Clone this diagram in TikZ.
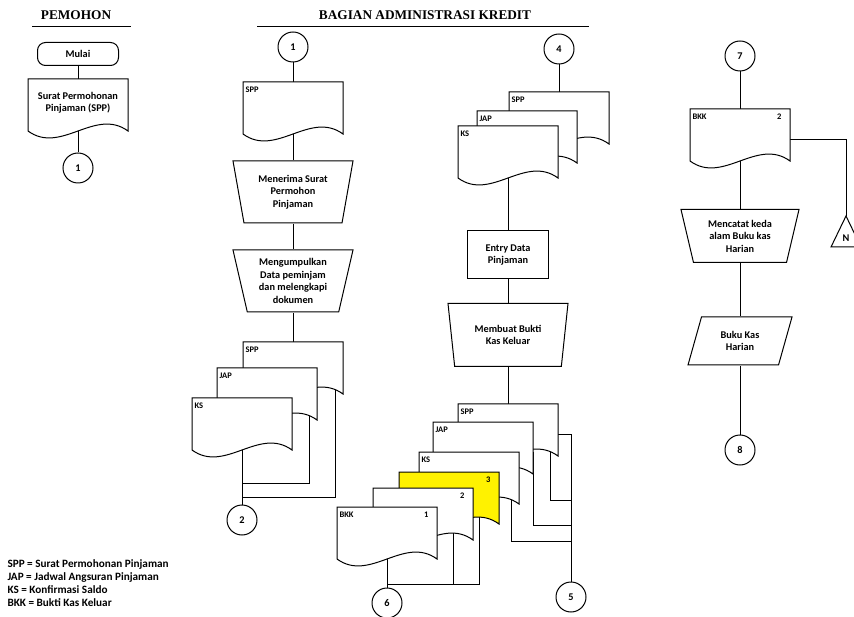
\documentclass[tikz,border=0pt]{standalone}
\usepackage{fontspec}
\setmainfont{Carlito}
\newfontfamily\titlefont{Liberation Serif}
\usetikzlibrary{shapes.geometric, backgrounds}

\tikzset{
  every node/.style={font=\bfseries\fontsize{10.3}{12.5}\selectfont},
  doclbl/.style={font=\bfseries\fontsize{8.5}{10}\selectfont, inner sep=1pt},
  con/.style={draw, circle, minimum size=30pt, inner sep=0pt, fill=white},
  proc/.style={draw, trapezium, shape border rotate=180, trapezium left angle=73,
    trapezium right angle=73, trapezium stretches body, minimum width=120pt,
    minimum height=62pt, align=center, fill=white, inner sep=1pt},
  startbox/.style={draw, rounded corners=8pt, minimum width=81pt, minimum height=23pt, fill=white},
  entrybox/.style={draw, minimum width=81pt, minimum height=48pt, align=center, fill=white},
  iobox/.style={draw, trapezium, trapezium left angle=63, trapezium right angle=117,
    trapezium stretches body, minimum width=104pt, minimum height=48pt, align=center, fill=white},
  docfill/.store in=\docfillcol, docfill=white,
  pics/doc/.style 2 args={code={
    \path[draw, fill=\docfillcol] (0,0) -- (100,0) -- (100,52)
      .. controls (67,28) and (33,76) .. (0,52) -- cycle;
    \coordinate (-n) at (50,0);
    \coordinate (-c) at (50,24);
    \coordinate (-e) at (100,30);
    \coordinate (-t) at (92,30);
    \coordinate (-u) at (80,30);
    \node[doclbl, anchor=north west] at (1,3) {#1};
    \node[doclbl, anchor=north east] at (93,3) {#2};
  }}
}

\begin{document}
\begin{tikzpicture}[x=1pt, y=-1pt, line width=1pt]
    \useasboundingbox (0,0) rectangle (854,617);

    % Place the titles
    \node[font=\titlefont\bfseries\fontsize{13.3}{15}\selectfont] (tpemohon) at (76,15) {PEMOHON};
    \node[font=\titlefont\bfseries\fontsize{13.3}{15}\selectfont] (tbagian) at (425,15) {BAGIAN ADMINISTRASI KREDIT};
    \draw (32,27) -- (131,27);
    \draw (257,27) -- (589,27);

    % Pemohon
    \node[startbox] (mulai) at (78,54) {Mulai};
    \pic (d0) at (28,79) {doc={}{}};
    \node[align=center] (sppreq) at (d0-c) {Surat Permohonan\\Pinjaman (SPP)};
    \node[con] (c1a) at (78,168) {1};

    % Bagian administrasi kredit, first column
    \node[con] (c1b) at (293,47) {1};
    \pic (spp1a) at (243,82) {doc={SPP}{}};
    \node[proc] (t1) at (293,192) {Menerima Surat\\Permohon\\Pinjaman};
    \node[proc] (t2) at (293,281) {Mengumpulkan\\Data peminjam\\dan melengkapi\\dokumen};
    \pic (spp1b) at (243,342) {doc={SPP}{}};
    \pic (jap1) at (217,368) {doc={JAP}{}};
    \pic (ks1) at (192,398) {doc={KS}{}};
    \node[con] (c2) at (242,520) {2};
    \coordinate (m1) at (242,483);
    \coordinate (m2) at (242,497);

    % Second column
    \node[con] (c4) at (559,49) {4};
    \pic (spp2) at (509,92) {doc={SPP}{}};
    \pic (jap2) at (477,111) {doc={JAP}{}};
    \pic (ks2) at (458,126) {doc={KS}{}};
    \node[entrybox] (entry) at (508,255) {Entry Data\\Pinjaman};
    \node[proc, minimum height=63pt] (t3) at (508,335) {Membuat Bukti\\Kas Keluar};
    \pic (spp3) at (458,404) {doc={SPP}{}};
    \pic (jap3) at (433,422) {doc={JAP}{}};
    \pic (ks3) at (419,452) {doc={KS}{}};
    \pic[docfill=yellow] (d3) at (399,472) {doc={}{3}};
    \pic (d2) at (373,488) {doc={}{2}};
    \pic (bkk1) at (337,507) {doc={BKK}{1}};
    \node[con] (c6) at (387,603) {6};
    \node[con] (c5) at (571,597) {5};
    \coordinate (m3) at (387,584);
    \coordinate (m5) at (571,500);
    \coordinate (m6) at (571,525);
    \coordinate (m7) at (571,541);

    % Third column
    \node[con] (c7) at (740,56) {7};
    \pic (bkk2) at (690,109) {doc={BKK}{2}};
    \node[proc, minimum width=118pt, minimum height=53pt, trapezium left angle=70,
      trapezium right angle=70] (t4) at (740,236) {Mencatat keda\\alam Buku kas\\Harian};
    \node[iobox] (buku) at (740,341) {Buku Kas\\Harian};
    \node[con] (c8) at (740,450) {8};
    \coordinate (ntop) at (846,216);
    \draw (ntop) -- ++(15,31) -- ++(-30,0) -- cycle;
    \node (arsipn) at (846,238) {N};

    % Draw the flow lines
    \begin{scope}[on background layer]
      \draw (mulai) -- (d0-n);
      \draw (d0-c) -- (c1a);
      \draw (c1b) -- (spp1a-n);
      \draw (spp1a-c) -- (t1);
      \draw (t1.south) -- (t1.south |- t2.north);
      \draw (spp1b-n) -- (spp1b-n |- t2.south);
      \draw (ks1-c) -- (c2);
      \draw (jap1-t) |- (m1);
      \draw (spp1b-t) |- (m2);
      \draw (c4) -- (spp2-n);
      \draw (ks2-c) -- (entry);
      \draw (entry.south) -- (entry.south |- t3.north);
      \draw (spp3-n) -- (spp3-n |- t3.south);
      \draw (bkk1-c) -- (c6);
      \draw (d3-u) |- (m3);
      \draw (d2-u) -- (d2-u |- m3);
      \draw (spp3-e) -| (c5);
      \draw (spp3-t) |- (m5);
      \draw (jap3-e) |- (m6);
      \draw (ks3-t) |- (m7);
      \draw (c7) -- (bkk2-n);
      \draw (bkk2-e) -| (ntop);
      \draw (bkk2-c) -- (t4);
      \draw (t4.south) -- (t4.south |- buku.north);
      \draw (c8.north) -- (c8.north |- buku.south);
    \end{scope}

    % Place the legend
    \node[anchor=north west, align=left, inner sep=0pt, font=\bfseries\fontsize{11.2}{13.2}\selectfont]
      (legend) at (7,559) {SPP = Surat Permohonan Pinjaman\\JAP = Jadwal Angsuran Pinjaman\\KS = Konfirmasi Saldo\\BKK = Bukti Kas Keluar};
\end{tikzpicture}
\end{document}
